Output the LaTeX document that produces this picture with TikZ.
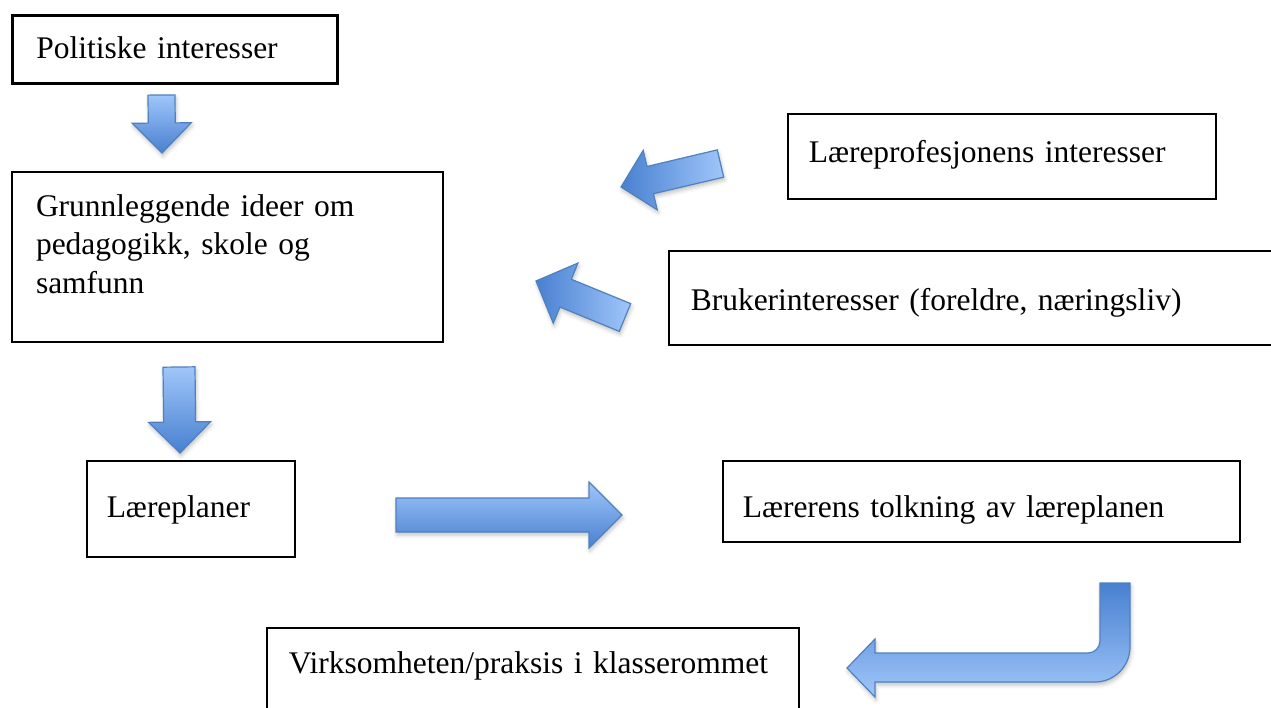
\documentclass[tikz,border=0pt]{standalone}
\usepackage{fontspec}
\setmainfont{Liberation Serif}
\usetikzlibrary{calc,positioning,shadows.blur}

\definecolor{pillys}{RGB}{160,198,250}
\definecolor{pilmork}{RGB}{72,128,208}
\definecolor{pilkant}{RGB}{79,129,189}

% blokkpil: hale, spiss, skaftbredde, hodebredde, hodelengde, skyggelegging
\newcommand{\blokkpil}[6]{%
  \coordinate (pilhals) at ($(#2)!#5!(#1)$);
  \draw[pil,#6] ($(#1)!#3/2!90:(#2)$) -- ($(pilhals)!#3/2!90:(#2)$)
    -- ($(pilhals)!#4/2!90:(#2)$) -- (#2)
    -- ($(pilhals)!#4/2!-90:(#2)$) -- ($(pilhals)!#3/2!-90:(#2)$)
    -- ($(#1)!#3/2!-90:(#2)$) -- cycle;
}

\begin{document}
\begin{tikzpicture}[x=1pt,y=-1pt,
    boks/.style={draw,line width=1.5pt,anchor=north west,inner ysep=0pt,align=left,
      font=\fontsize{31.5}{38.5}\selectfont},
    pil/.style={draw=pilkant,line width=1.2pt,
      blur shadow={shadow xshift=1pt,shadow yshift=-3pt,shadow blur radius=4pt,shadow opacity=25}}]
  \useasboundingbox (0,0) rectangle (1271,707);

  \node[boks,line width=2.5pt,inner xsep=24pt,text width=277pt,text height=43pt,text depth=25pt]
    (politikk) at (11,14) {Politiske interesser};
  \node[boks,line width=2pt,inner xsep=24pt,text width=383pt,text height=44pt,text depth=126pt]
    (ideer) at (11,171) {Grunnleggende ideer om\\pedagogikk, skole og\\samfunn};
  \node[boks,inner xsep=21pt,text width=386pt,text height=49pt,text depth=36pt]
    (profesjon) at (787,113) {Læreprofesjonens interesser};
  \node[boks,inner xsep=22pt,text width=576pt,text height=60pt,text depth=34pt]
    (brukere) at (668,250) {Brukerinteresser (foreldre, næringsliv)};
  \node[boks,inner xsep=20pt,text width=168pt,text height=57pt,text depth=39pt]
    (planer) at (86,460) {Læreplaner};
  \node[boks,inner xsep=20pt,text width=477pt,text height=57pt,text depth=24pt]
    (tolkning) at (722,460) {Lærerens tolkning av læreplanen};
  \node[boks,inner xsep=22pt,text width=488pt,text height=46pt,text depth=54pt]
    (praksis) at (266,627) {Virksomheten/praksis i klasserommet};

  % ende- og startpunkter for pilene
  \coordinate (hale1) at (161.5,95);  \coordinate (spiss1) at (162,153);
  \coordinate (hale2) at (179,367);   \coordinate (spiss2) at (180,453);
  \coordinate (hale3) at (396,515);   \coordinate (spiss3) at (622,515);
  \coordinate (hale4) at (720.5,163.5); \coordinate (spiss4) at (621,187);
  \coordinate (hale5) at (625,317.5); \coordinate (spiss5) at (536,281);

  \blokkpil{hale1}{spiss1}{27pt}{59pt}{30pt}{top color=pillys,bottom color=pilmork}
  \blokkpil{hale2}{spiss2}{32pt}{62pt}{31pt}{top color=pillys,bottom color=pilmork}
  \blokkpil{hale3}{spiss3}{34pt}{66pt}{33pt}{top color=pillys,bottom color=pilmork}
  \blokkpil{hale4}{spiss4}{28pt}{61pt}{30pt}{left color=pilmork,right color=pillys}
  \blokkpil{hale5}{spiss5}{30pt}{65pt}{32pt}{left color=pilmork,right color=pillys}

  % u-pil
  \draw[pil,top color=pilmork,bottom color=pillys] (1100,583) -- (1130,583) -- (1130,647)
    arc[start angle=0,end angle=90,radius=35] -- (875,682) -- (875,697) -- (847,668)
    -- (875,639) -- (875,653) -- (1088,653) arc[start angle=90,end angle=0,radius=12] -- cycle;
\end{tikzpicture}
\end{document}
